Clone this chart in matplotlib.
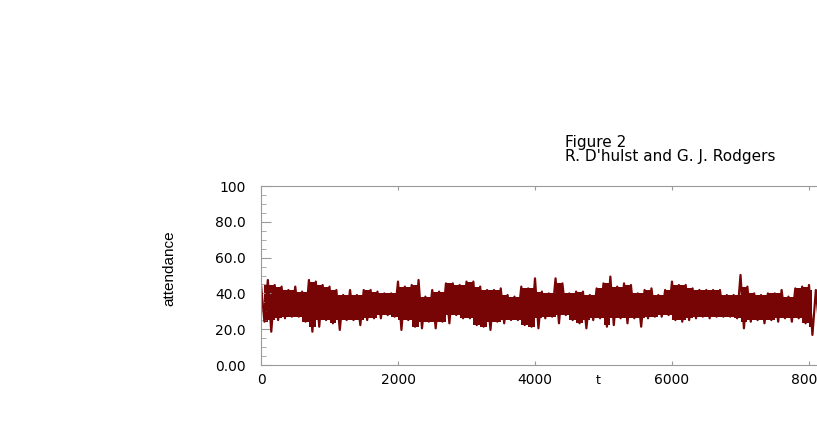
import numpy as np
import matplotlib.pyplot as plt

t_block = np.arange(0, 8200, 100)
att_hi = [44.7, 47.5, 44.7, 43.8, 41.9, 43.8, 41.0, 47.5, 46.6, 44.7,
          43.8, 41.9, 39.1, 41.9, 39.1, 41.9, 41.9, 41.0, 40.0, 40.0,
          46.6, 43.8, 44.7, 47.5, 38.2, 41.9, 41.0, 45.6, 45.6, 44.7,
          46.6, 46.6, 43.8, 41.9, 41.9, 42.8, 39.1, 38.2, 43.8, 42.8,
          48.4, 41.0, 40.0, 48.4, 45.6, 40.0, 41.0, 41.0, 39.1, 42.8,
          45.6, 49.4, 43.8, 45.6, 44.7, 40.0, 41.9, 42.8, 39.1, 41.9,
          46.6, 44.7, 44.7, 42.8, 41.9, 41.9, 41.9, 41.9, 39.1, 39.1,
          50.3, 43.8, 40.0, 39.1, 40.0, 40.0, 41.9, 38.2, 42.8, 43.8,
          44.7, 41.9]
att_lo = [24.2, 18.6, 25.1, 26.1, 27.0, 27.0, 24.2, 18.6, 21.4, 25.1,
          23.3, 19.6, 25.1, 25.1, 22.3, 25.1, 26.1, 26.1, 27.9, 27.0,
          19.6, 25.1, 21.4, 20.5, 24.2, 20.5, 24.2, 23.3, 27.9, 26.1,
          26.1, 22.3, 21.4, 19.6, 24.2, 23.3, 25.1, 25.1, 22.3, 21.4,
          20.5, 26.1, 27.0, 23.3, 27.9, 25.1, 23.3, 20.5, 25.1, 26.1,
          21.4, 22.3, 26.1, 23.3, 26.1, 21.4, 26.1, 27.0, 27.0, 27.9,
          25.1, 24.2, 25.1, 26.1, 27.0, 26.1, 27.0, 27.0, 27.0, 26.1,
          20.5, 24.2, 25.1, 23.3, 25.1, 24.2, 26.1, 24.2, 26.1, 23.3,
          16.8, 21.4]

yticks = [0, 20, 40, 60, 80, 100]
ylabels = ['0.00', '20.0', '40.0', '60.0', '80.0', '100']
xticks = [0, 2000, 4000, 6000, 8000]
xlabels = ['0', '2000', '4000', '6000', '8000']

col = '#780505'
W, H = 817, 436
fig = plt.figure(figsize=(W / 100, H / 100), dpi=100)
ax = fig.add_axes([261 / W, (H - 365) / H, 685 / W, 179 / H])

hi = np.array(att_hi)
lo = np.array(att_lo)

# solid core of the band: what two neighbouring blocks share
t_mid = t_block[:-1] + 50
core_hi = np.minimum(hi[:-1], hi[1:])
core_lo = np.maximum(lo[:-1], lo[1:])
ax.fill_between(t_mid, core_lo, core_hi, step='mid', color=col, lw=0)

# peak and trough of every block as a zigzag line
t_zz = np.stack([t_block, t_block + 50], axis=1).ravel()
y_zz = np.stack([hi, lo], axis=1).ravel()
ax.plot(t_zz, y_zz, color=col, lw=1.6)

ax.set_xlim(0, 10000)
ax.set_ylim(0, 100)
ax.set_yticks(yticks)
ax.set_yticklabels(ylabels)
ax.set_yticks(np.arange(0, 101, 5), minor=True)
ax.set_xticks(xticks)
ax.set_xticklabels(xlabels)

grey = '#9a9a9a'
for s in ax.spines.values():
    s.set_color(grey)
ax.tick_params(axis='both', which='both', direction='in', color=grey, top=True, right=True)
ax.tick_params(axis='y', which='major', length=7, pad=11, labelsize=10)
ax.tick_params(axis='y', which='minor', length=3.6)
ax.tick_params(axis='x', which='major', length=3, pad=6, labelsize=10)

ax.set_xlabel('t', fontsize=9)
ax.xaxis.set_label_coords((598 - 261) / 685, -9 / 179)
ax.set_ylabel('attendance', family=['Liberation Sans', 'DejaVu Sans'], fontsize=11)
ax.yaxis.set_label_coords((176 - 261) / 685, (365 - 268) / 179)

fig.text(565 / W, 1 - 161 / H, "Figure 2\nR. D'hulst and G. J. Rodgers",
         fontsize=11, va='baseline', linespacing=0.95)

fig.savefig('out.png', dpi=100)
